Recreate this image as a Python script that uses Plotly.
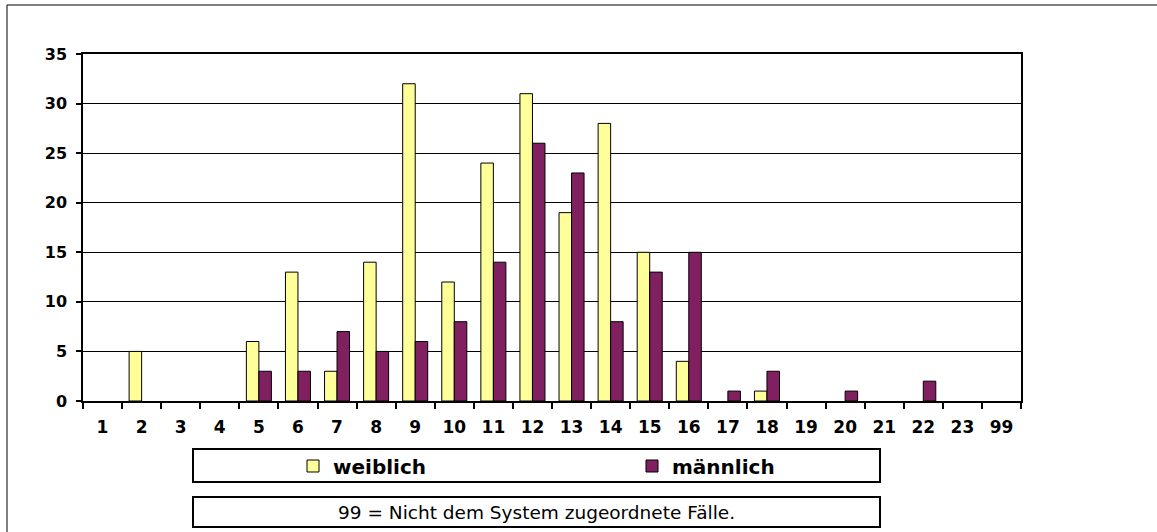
import plotly.graph_objects as go

categories = ["1", "2", "3", "4", "5", "6", "7", "8", "9", "10", "11", "12",
              "13", "14", "15", "16", "17", "18", "19", "20", "21", "22", "23", "99"]
weiblich = [0, 5, 0, 0, 6, 13, 3, 14, 32, 12, 24, 31, 19, 28, 15, 4, 0, 1, 0, 0, 0, 0, 0, 0]
maennlich = [0, 0, 0, 0, 3, 3, 7, 5, 6, 8, 14, 26, 23, 8, 13, 15, 1, 3, 0, 1, 0, 2, 0, 0]
y_ticks = [0, 5, 10, 15, 20, 25, 30, 35]
note_text = "99 = Nicht dem System zugeordnete Fälle."

W, H = 1157, 532
L, R, T, B = 83, 1021, 54, 401


def px(x):
    return (x - L) / (R - L)


def py(y):
    return (B - y) / (B - T)


def nz(vals):
    # empty categories show no bar at all
    return [v if v else None for v in vals]


fig = go.Figure()
fig.add_trace(go.Bar(x=categories, y=nz(weiblich), name="weiblich",
                     marker=dict(color="#FFFF99", line=dict(color="black", width=1))))
fig.add_trace(go.Bar(x=categories, y=nz(maennlich), name="männlich",
                     marker=dict(color="#802060", line=dict(color="black", width=1))))

font = "DejaVu Sans, Arial, sans-serif"

fig.update_layout(
    width=W, height=H,
    margin=dict(l=L, r=W - R, t=T, b=H - B),
    paper_bgcolor="white", plot_bgcolor="white",
    barmode="group", bargap=0.36, bargroupgap=0,
    font=dict(family=font, color="black"),
    showlegend=True,
    legend=dict(orientation="h", x=px(293), y=py(466), xanchor="left", yanchor="middle",
                entrywidth=294, entrywidthmode="pixels",
                bgcolor="rgba(0,0,0,0)", borderwidth=0,
                font=dict(family=font, size=20, color="black", weight="bold"),
                itemwidth=30, tracegroupgap=0),
    xaxis=dict(type="category", showline=True, linecolor="black", linewidth=1.5,
               mirror=True, ticks="outside", tickson="boundaries", ticklen=6,
               tickcolor="black", tickwidth=1.5, ticklabelstandoff=10,
               tickfont=dict(family=font, size=17, color="black", weight="bold"),
               showgrid=False),
    yaxis=dict(range=[0, 35], tickvals=y_ticks, showline=True, linecolor="black",
               linewidth=1.5, mirror=True, ticks="outside", ticklen=5,
               tickcolor="black", tickwidth=1.5, ticklabelstandoff=6,
               showgrid=True, gridcolor="black", gridwidth=1.2, zeroline=False,
               tickfont=dict(family=font, size=16, color="black", weight="bold")),
    shapes=[
        # outer chart border
        dict(type="rect", xref="paper", yref="paper",
             x0=px(7), x1=px(1170), y0=py(545), y1=py(5),
             line=dict(color="black", width=1)),
        # legend box
        dict(type="rect", xref="paper", yref="paper",
             x0=px(193), x1=px(880), y0=py(482), y1=py(449),
             line=dict(color="black", width=2)),
        # note box
        dict(type="rect", xref="paper", yref="paper",
             x0=px(193), x1=px(880), y0=py(527), y1=py(497),
             line=dict(color="black", width=2)),
    ],
    annotations=[
        dict(text=note_text, xref="paper", yref="paper",
             x=px(536), y=py(512), xanchor="center", yanchor="middle",
             showarrow=False, font=dict(family=font, size=18.5, color="black")),
    ],
)

fig.write_html("out.html",
               config={"displayModeBar": False},
               post_script="document.body.style.margin='0';document.body.style.overflow='hidden';")
